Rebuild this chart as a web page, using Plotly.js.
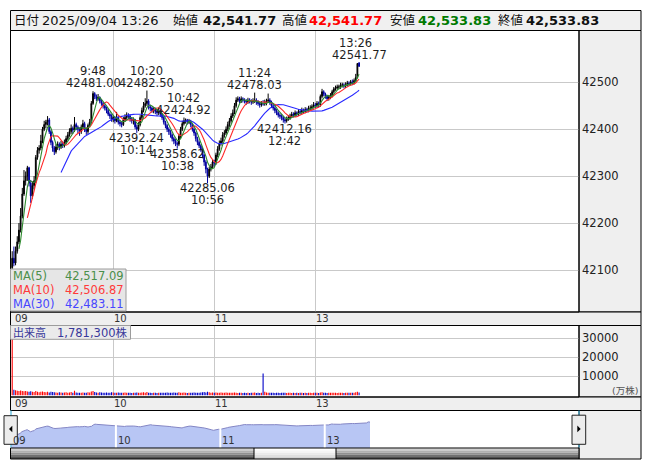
<!DOCTYPE html>
<html><head><meta charset="utf-8">
<script src="https://cdn.plot.ly/plotly-3.0.1.min.js"></script>
<style>html,body{margin:0;padding:0;background:#fff;}#chart{width:653px;height:470px;}</style>
</head><body><div id="chart"></div>
<script>
// ---- data (1-minute bars, index 0 = 09:00, 150 = 12:30) ----
const openP = [
42105,42125,42115,42140,42160,42185,42215,42262,42290,42300,
42318,42285,42258,42280,42290,42340,42355,42360,42375,42400,
42410,42415,42420,42395,42372,42360,42352,42362,42368,42362,
42368,42365,42372,42380,42388,42395,42402,42398,42410,42405,
42400,42395,42405,42412,42400,42395,42408,42415,42455,42476,
42470,42465,42468,42460,42455,42450,42445,42440,42432,42428,
42420,42425,42418,42425,42415,42412,42410,42420,42425,42430,
42428,42422,42418,42420,42405,42400,42410,42425,42440,42450,
42455,42460,42448,42445,42440,42442,42438,42435,42440,42432,
42425,42415,42408,42400,42395,42388,42380,42375,42370,42368,
42385,42400,42412,42418,42420,42415,42418,42410,42400,42392,
42380,42372,42365,42358,42345,42330,42315,42300,42315,42320,
42330,42328,42345,42358,42370,42375,42388,42392,42400,42410,
42418,42428,42435,42450,42462,42465,42460,42465,42462,42460,
42458,42462,42460,42458,42460,42462,42458,42455,42452,42455,
42454,42455,42460,42462,42458,42450,42445,42440,42435,42430,
42428,42425,42420,42418,42422,42425,42428,42432,42430,42435,
42432,42438,42436,42440,42438,42442,42440,42445,42445,42448,
42452,42450,42455,42452,42470,42480,42475,42470,42465,42468,
42472,42480,42486,42488,42490,42490,42494,42494.6,42492,42495,
42498,42497,42501.25,42498,42503.62,42510,42541.77];
const highP = [
42140,42150,42150,42172,42200,42232,42275,42313,42310,42322,
42320,42292,42288,42300,42345,42362,42366,42388,42405,42418,
42420,42428,42424,42398,42376,42364,42368,42374,42372,42375,
42374,42378,42386,42394,42402,42410,42406,42426,42414,42408,
42404,42410,42420,42416,42404,42412,42422,42460,42481.00,42479,
42474,42475,42470,42464,42458,42453,42448,42444,42436,42432,
42430,42428,42437,42428,42420,42416,42426,42432,42436,42434,
42432,42426,42425,42422,42410,42415,42430,42446,42458,42466,
42482.50,42464,42452,42448,42447,42446,42442,42446,42443,42435,
42428,42418,42411,42404,42398,42391,42384,42379,42374,42390,
42405,42418,42424.92,42423,42422,42422,42420,42413,42404,42395,
42384,42376,42368,42361,42348,42334,42318,42320,42326,42336,
42335,42350,42364,42376,42382,42394,42398,42406,42416,42424,
42434,42442,42456,42468,42470,42469,42470,42468,42466,42464,
42467,42466,42464,42466,42478.03,42466,42462,42459,42460,42462,
42463,42465,42476,42466,42461,42454,42448,42443,42438,42434,
42432,42428,42424,42427,42430,42433,42437,42436,42440,42438,
42443,42442,42446,42444,42447,42446,42450,42451,42453,42458,
42456,42460,42459,42474,42486,42483,42478,42473,42473,42477,
42484,42490,42493,42495,42495,42499,42499,42498,42500,42503,
42502,42505,42506,42508,42518,42541,42541.77];
const lowP = [
42100,42108,42110,42135,42155,42180,42210,42258,42280,42290,
42278,42243,42252,42272,42285,42335,42348,42355,42370,42396,
42402,42408,42390,42366,42352,42345,42348,42356,42355,42358,
42360,42361,42368,42376,42384,42390,42390,42394,42398,42392,
42386,42390,42400,42394,42388,42390,42404,42412,42452,42464,
42460,42461,42455,42450,42444,42440,42434,42428,42422,42416,
42415,42412,42415,42410,42406,42404,42407,42416,42420,42422,
42416,42412,42410,42400,42392.24,42396,42406,42420,42436,42446,
42450,42442,42438,42435,42434,42432,42428,42430,42426,42420,
42410,42402,42394,42388,42382,42374,42368,42364,42358.62,42364,
42380,42396,42408,42412,42410,42411,42404,42395,42386,42374,
42366,42360,42352,42338,42322,42306,42285.06,42296,42310,42316,
42320,42324,42340,42354,42365,42371,42382,42388,42396,42405,
42414,42424,42432,42446,42458,42455,42456,42457,42455,42452,
42454,42455,42452,42454,42456,42452,42450,42446,42448,42450,
42450,42451,42456,42452,42445,42440,42434,42430,42425,42422,
42419,42414,42412.16,42414,42418,42420,42424,42425,42426,42427,
42428,42431,42432,42433,42434,42435,42436,42440,42441,42444,
42445,42446,42447,42448,42466,42470,42465,42460,42461,42464,
42468,42476,42482,42484,42485,42486,42489,42487,42488,42491,
42492,42493,42494,42495,42500,42508,42533.83];
const closeP = [
42125,42115,42140,42160,42185,42215,42262,42290,42300,42318,
42285,42258,42280,42290,42340,42355,42360,42375,42400,42410,
42415,42420,42395,42372,42360,42352,42362,42368,42362,42368,
42365,42372,42380,42388,42395,42402,42398,42410,42405,42400,
42395,42405,42412,42400,42395,42408,42415,42455,42476,42470,
42465,42468,42460,42455,42450,42445,42440,42432,42428,42420,
42425,42418,42425,42415,42412,42410,42420,42425,42430,42428,
42422,42418,42420,42405,42400,42410,42425,42440,42450,42455,
42460,42448,42445,42440,42442,42438,42435,42440,42432,42425,
42415,42408,42400,42395,42388,42380,42375,42370,42368,42385,
42400,42412,42418,42420,42415,42418,42410,42400,42392,42380,
42372,42365,42358,42345,42330,42315,42300,42315,42320,42330,
42328,42345,42358,42370,42375,42388,42392,42400,42410,42418,
42428,42435,42450,42462,42465,42460,42465,42462,42460,42458,
42462,42460,42458,42460,42462,42458,42455,42452,42455,42454,
42455,42460,42462,42458,42450,42445,42440,42435,42430,42428,
42425,42420,42418,42422,42425,42428,42432,42430,42435,42432,
42438,42436,42440,42438,42442,42440,42445,42445,42448,42452,
42450,42455,42452,42470,42480,42475,42470,42465,42468,42472,
42480,42486,42488,42490,42490,42494,42494.6,42492,42495,42498,
42497,42501.25,42498,42503.62,42510,42540,42533.83];
const volume = [ // 万株
42000,2900,2600,2400,2300,2500,2200,2100,2300,2000,
1900,2100,1800,1700,2200,1900,1600,1800,2000,1700,
1600,1800,1500,1900,1700,1600,1500,1400,1600,1500,
1400,1500,1600,1400,1500,1700,1400,2400,1500,1400,
1300,1400,1500,1300,1400,1600,1500,2000,2200,1700,
1500,1400,1600,1500,1300,1400,1500,1300,1400,1600,
1500,1400,1300,1500,1400,1300,1400,1500,1300,1400,
1300,1200,1400,1300,1500,1400,1300,1500,1600,1400,
1700,1400,1300,1200,1400,1300,1200,1300,1400,1300,
1400,1300,1500,1400,1300,1400,1500,1300,1400,1600,
1400,1300,1500,1300,1200,1300,1400,1300,1500,1400,
1300,1400,1500,1600,1700,1500,1900,1600,1400,1500,
1400,1500,1300,1400,1500,1300,1400,1500,1300,1400,
1300,1400,1500,1300,1200,1300,1400,1200,1300,1200,
1300,1200,1400,1300,1500,1200,1300,1200,1400,11400,
1800,1500,1400,1300,1400,1300,1200,1400,1300,1200,
1300,1400,1300,1200,1300,1400,1200,1300,1200,1300,
1200,1300,1400,1200,1300,1200,1300,1400,1200,1300,
1400,1300,1200,1500,1600,1400,1300,1200,1300,1400,
1300,1400,1300,1200,1300,1400,1300,1200,1300,1400,
1300,1400,1300,1400,1600,1900,1500];
const hourIdx = [0, 60, 120, 180];
const hourLabels = ['09', '10', '11', '13'];
const priceTicks = [42100, 42200, 42300, 42400, 42500];
const volTicks = [10000, 20000, 30000];
const highMarkIdx = [48, 80, 102, 144, 206];
const highMarkTime = ['9:48', '10:20', '10:42', '11:24', '13:26'];
const lowMarkIdx = [74, 98, 116, 162];
const lowMarkTime = ['10:14', '10:38', '10:56', '12:42'];
const maPeriods = [5, 10, 30];
const maColors = ['#2f8a2f', '#ff2a2a', '#2a2aff'];
const maTextColors = ['#4a8f4a', '#ff3a3a', '#4646ff'];
const headerDate = '2025/09/04 13:26';
const volumeText = '1,781,300株';

// ---- helpers ----
const W = 653, H = 470;
const fx = x => x / W, fy = y => 1 - y / H;
const idx = closeP.map((_, i) => i);
const fmt = v => v.toLocaleString('en-US', {minimumFractionDigits: 2, maximumFractionDigits: 2});
function sma(a, n) { return a.map((v, i) => i < n - 1 ? null : a.slice(i - n + 1, i + 1).reduce((s, b) => s + b, 0) / n); }
const FONT = 'DejaVu Sans, Noto Sans CJK JP, sans-serif';

const traces = [];
traces.push({type: 'candlestick', x: idx, open: openP, high: highP, low: lowP, close: closeP,
  xaxis: 'x', yaxis: 'y', whiskerwidth: 0, hoverinfo: 'skip', showlegend: false,
  increasing: {line: {color: '#000000', width: 1}, fillcolor: '#000000'},
  decreasing: {line: {color: '#0000a0', width: 1}, fillcolor: '#0000a0'}});
const maVals = [];
for (let k = maPeriods.length - 1; k >= 0; k--) {
  const m = sma(closeP, maPeriods[k]);
  maVals[k] = m[m.length - 1];
  traces.push({type: 'scatter', mode: 'lines', x: idx, y: m, xaxis: 'x', yaxis: 'y',
    line: {color: maColors[k], width: 1.1}, hoverinfo: 'skip', showlegend: false});
}
traces.push({type: 'bar', x: idx, y: volume, xaxis: 'x2', yaxis: 'y2',
  marker: {color: closeP.map((c, i) => c >= openP[i] ? '#ff0000' : '#0000c8'), line: {width: 0}},
  hoverinfo: 'skip', showlegend: false});
traces.push({type: 'scatter', mode: 'lines', x: idx, y: closeP, xaxis: 'x3', yaxis: 'y3',
  fill: 'tozeroy', fillcolor: '#b8c6f4', line: {color: '#8486c4', width: 1},
  hoverinfo: 'skip', showlegend: false});

// ---- shapes ----
const shapes = [];
function rect(x0, y0, x1, y1, fill, line, layer) {
  shapes.push({type: 'rect', xref: 'paper', yref: 'paper', x0: fx(x0), x1: fx(x1), y0: fy(y0), y1: fy(y1),
    fillcolor: fill || 'rgba(0,0,0,0)', line: {color: line || 'rgba(0,0,0,0)', width: line ? 1 : 0}, layer: layer || 'above'});
}
function vline(x, y0, y1, color, w) {
  shapes.push({type: 'line', xref: 'paper', yref: 'paper', x0: fx(x), x1: fx(x), y0: fy(y0), y1: fy(y1),
    line: {color: color, width: w || 1}, layer: 'above'});
}
function tri(pts) {
  shapes.push({type: 'path', xref: 'paper', yref: 'paper',
    path: 'M ' + pts.map(p => fx(p[0]) + ' ' + fy(p[1])).join(' L ') + ' Z',
    fillcolor: '#000', line: {width: 0}, layer: 'above'});
}
rect(10.5, 10.5, 641, 30.5, '#f0f0f0', '#000', 'below');
rect(579, 30.5, 641, 312, '#efefef', '#000', 'below');
rect(10.5, 312, 641, 325.5, '#efefef', '#000', 'below');
rect(579, 325.5, 641, 397, '#efefef', '#000', 'below');
rect(10.5, 397, 641, 410.5, '#efefef', '#000', 'below');
rect(579, 410.5, 641, 459, '#efefef', '#000', 'below');
rect(10.5, 30.5, 579, 312, null, '#000');
rect(10.5, 325.5, 579, 397, null, '#000');
// navigator hour separators
hourIdx.slice(1).forEach(h => shapes.push({type: 'line', xref: 'x3', yref: 'paper', x0: h, x1: h,
  y0: fy(448), y1: fy(414), line: {color: '#ffffff', width: 2}, layer: 'above'}));
vline(11, 410.5, 447.5, '#29a8d8', 1);
vline(579, 410.5, 447.5, '#29a8d8', 1);
// scrollbar
const darkBands = ['#cfcfcf', '#b0b0b0', '#909090', '#707070', '#505050'];
const lightBands = ['#ffffff', '#f6f6f6', '#ebebeb', '#e0e0e0', '#d4d4d4'];
for (let b = 0; b < 5; b++) {
  const y0 = 448.5 + b * 2.1, y1 = y0 + 2.1;
  rect(10.5, y0, 254, y1, darkBands[b], null);
  rect(254, y0, 336, y1, lightBands[b], null);
  rect(336, y0, 579, y1, darkBands[b], null);
}
rect(10.5, 448, 579, 459, null, '#000');
vline(254, 448, 459, '#000', 1);
vline(336, 448, 459, '#000', 1);
// buttons
rect(4, 415.7, 17.3, 444.3, '#ececec', '#222');
rect(572, 415.2, 585.7, 444.3, '#ececec', '#222');
tri([[12.3, 425.7], [9, 429], [12.3, 432.3]]);
tri([[577.3, 425.5], [580.7, 428.9], [577.3, 432.3]]);
// legend boxes
rect(10.5, 269, 126, 311, '#e6e6e6', '#9c9c9c');
rect(10.5, 325.5, 130.5, 339.3, '#ebebeb', '#9c9c9c');

// ---- annotations ----
const ann = [];
function txt(text, x, y, opt) {
  opt = opt || {};
  ann.push(Object.assign({text: text, xref: 'paper', yref: 'paper', x: fx(x), y: fy(y), showarrow: false,
    xanchor: 'left', yanchor: 'middle', borderpad: 0,
    font: {family: FONT, size: 11.5, color: '#1e1e1e'}}, opt));
}
// header
const last = closeP.length - 1;
const hdrBold = {family: 'DejaVu Sans, sans-serif', size: 13, color: '#111'};
txt('日付', 13, 20.5, {font: {family: FONT, size: 12.5, color: '#111'}});
txt(headerDate, 41, 20.5, {font: {family: FONT, size: 13, color: '#111'}});
txt('始値', 172, 20.5, {font: {family: FONT, size: 12.5, color: '#111'}});
txt('<b>' + fmt(openP[last]) + '</b>', 202, 20.5, {font: hdrBold});
txt('高値', 281, 20.5, {font: {family: FONT, size: 12.5, color: '#111'}});
txt('<b>' + fmt(highP[last]) + '</b>', 308, 20.5, {font: Object.assign({}, hdrBold, {color: '#ff0000'})});
txt('安値', 389, 20.5, {font: {family: FONT, size: 12.5, color: '#111'}});
txt('<b>' + fmt(lowP[last]) + '</b>', 416.5, 20.5, {font: Object.assign({}, hdrBold, {color: '#007a00'})});
txt('終値', 497, 20.5, {font: {family: FONT, size: 12.5, color: '#111'}});
txt('<b>' + fmt(closeP[last]) + '</b>', 525, 20.5, {font: hdrBold});
// MA legend
const rowsY = [275.5, 289.5, 303.5];
maPeriods.forEach((p, k) => {
  txt('MA(' + p + ')', 11.5, rowsY[k], {font: {family: FONT, size: 11.5, color: maTextColors[k]}});
  txt(fmt(maVals[k]), 124.5, rowsY[k], {xanchor: 'right', font: {family: FONT, size: 11.5, color: maTextColors[k]}});
});
// volume legend
txt('出来高', 11.5, 332.5, {font: {family: FONT, size: 11, color: '#38389a'}});
txt(volumeText, 128.5, 332.5, {xanchor: 'right', font: {family: FONT, size: 11.5, color: '#38389a'}});
txt('(万株)', 639, 390.5, {xanchor: 'right', font: {family: FONT, size: 9.5, color: '#555'}});
// time strips
hourIdx.forEach((h, k) => {
  [['x', 318.5], ['x', 403.5]].forEach(([ax, yy]) => ann.push({text: hourLabels[k], xref: ax, yref: 'paper', x: h, y: fy(yy),
    xanchor: 'left', yanchor: 'middle', xshift: k === 0 ? 2 : 0, showarrow: false, borderpad: 0,
    font: {family: FONT, size: 10, color: '#333'}}));
  ann.push({text: hourLabels[k], xref: 'x3', yref: 'paper', x: h, y: fy(440.5), xanchor: 'left', yanchor: 'middle',
    xshift: 1, showarrow: false, borderpad: 0, font: {family: FONT, size: 10, color: '#333'}});
});
// high / low marks
const markFont = {family: FONT, size: 11.5, color: '#1e1e1e'};
highMarkIdx.forEach((i, k) => {
  ann.push({text: highP[i].toFixed(2), x: i, y: highP[i], xref: 'x', yref: 'y', showarrow: false,
    yanchor: 'bottom', xanchor: 'center', yshift: 0, borderpad: 0, font: markFont});
  ann.push({text: highMarkTime[k], x: i, y: highP[i], xref: 'x', yref: 'y', showarrow: false,
    yanchor: 'bottom', xanchor: 'center', yshift: 12, xshift: k === 4 ? -4 : 0, borderpad: 0, font: markFont});
});
lowMarkIdx.forEach((i, k) => {
  ann.push({text: lowP[i].toFixed(2), x: i, y: lowP[i], xref: 'x', yref: 'y', showarrow: false,
    yanchor: 'top', xanchor: 'center', yshift: 3, borderpad: 0, font: markFont});
  ann.push({text: lowMarkTime[k], x: i, y: lowP[i], xref: 'x', yref: 'y', showarrow: false,
    yanchor: 'top', xanchor: 'center', yshift: -9, borderpad: 0, font: markFont});
});

const gridC = '#c9c9c9';
const layout = {
  width: W, height: H, margin: {l: 0, r: 0, t: 0, b: 0}, paper_bgcolor: '#ffffff', plot_bgcolor: '#ffffff',
  showlegend: false, font: {family: FONT, size: 11.5, color: '#222'},
  xaxis: {domain: [fx(10.5), fx(579)], range: [-1.01, 336.6], anchor: 'y', tickvals: hourIdx.slice(1),
    showticklabels: false, ticks: '', showgrid: true, gridcolor: gridC, zeroline: false,
    rangeslider: {visible: false}, fixedrange: true},
  yaxis: {domain: [fy(312), fy(30.5)], range: [42010.5, 42610.4], anchor: 'x', side: 'right',
    tickvals: priceTicks, ticktext: priceTicks.map(String), ticks: '', showgrid: true, gridcolor: gridC,
    zeroline: false, tickfont: {family: FONT, size: 11.5, color: '#222'}, ticklabelstandoff: 2, fixedrange: true},
  xaxis2: {domain: [fx(10.5), fx(579)], range: [-1.01, 336.6], anchor: 'y2', tickvals: hourIdx.slice(1),
    showticklabels: false, ticks: '', showgrid: true, gridcolor: gridC, zeroline: false, fixedrange: true},
  yaxis2: {domain: [fy(397), fy(325.5)], range: [-890, 36545], anchor: 'x2', side: 'right',
    tickvals: volTicks, ticktext: volTicks.map(String), ticks: '', showgrid: true, gridcolor: gridC,
    zeroline: false, tickfont: {family: FONT, size: 11.5, color: '#222'}, ticklabelstandoff: 2, fixedrange: true},
  xaxis3: {domain: [fx(10.5), fx(579)], range: [-0.57, 326.1], anchor: 'y3', showticklabels: false,
    ticks: '', showgrid: false, zeroline: false, fixedrange: true},
  yaxis3: {domain: [fy(448), fy(410.5)], range: [41796, 42865], anchor: 'x3', visible: false, fixedrange: true},
  bargap: 0.35,
  shapes: shapes, annotations: ann
};
Plotly.newPlot('chart', traces, layout, {staticPlot: true, displayModeBar: false});
</script></body></html>
